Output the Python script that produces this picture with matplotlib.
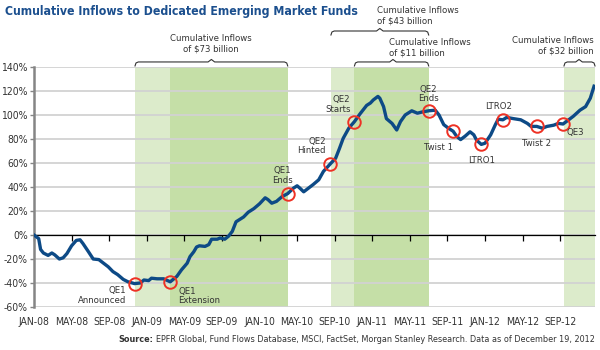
import matplotlib
matplotlib.use('Agg')
import matplotlib.pyplot as plt
import matplotlib.transforms as mtransforms
from matplotlib import font_manager as fm
import numpy as np

# pick a narrow font if one is installed
narrow = [f for f in fm.fontManager.ttflist
          if 'narrow' in f.name.lower() or 'condensed' in str(f.stretch).lower()
          or 'condensed' in f.fname.lower()]
if narrow:
    plt.rcParams['font.family'] = [narrow[0].name, 'DejaVu Sans']
    plt.rcParams['font.stretch'] = narrow[0].stretch
    scale = 1.0
else:
    plt.rcParams['font.family'] = ['Liberation Sans', 'DejaVu Sans']
    scale = 0.85

# months since JAN-08 and cumulative inflows (%)
months = [0, 0.5, 0.7, 1.0, 1.5, 1.9, 2.2, 2.7, 3.1, 3.5,
          4.0, 4.5, 4.9, 5.2, 5.8, 6.3, 6.9, 7.4, 7.9, 8.4,
          8.9, 9.5, 10.0, 10.7, 11.3, 11.7, 12.2, 12.5, 13.1, 13.8,
          14.5, 15.2, 15.7, 16.3, 16.6, 17.0, 17.3, 17.6, 18.2, 18.6,
          18.9, 19.5, 19.8, 20.3, 20.7, 21.1, 21.5, 21.9, 22.3, 22.8,
          23.4, 24.0, 24.6, 24.9, 25.3, 25.8, 26.4, 27.0, 27.6, 28.0,
          28.3, 28.7, 29.2, 29.7, 30.3, 30.8, 31.5, 32.1, 32.5, 32.9,
          33.5, 34.1, 34.7, 35.4, 35.8, 36.1, 36.6, 36.8, 37.2, 37.5,
          38.1, 38.6, 39.0, 39.5, 40.2, 40.8, 41.3, 42.0, 42.7, 43.1,
          43.6, 44.1, 44.6, 45.0, 45.4, 45.9, 46.4, 46.8, 47.1, 47.6,
          48.0, 48.6, 49.1, 49.4, 49.9, 50.3, 51.0, 51.8, 52.5, 52.9,
          53.5, 54.1, 54.6, 55.3, 55.8, 56.3, 56.9, 57.4, 58.1, 58.7,
          59.2, 59.6]
inflows = [0, -3, -12, -15, -17, -15, -16.5, -20, -19, -15.5,
           -9, -4.5, -4, -7, -14, -20, -20.5, -23.5, -26.5, -30.5,
           -33, -37, -39, -40.5, -40, -37.5, -38, -36, -36.5, -36.5,
           -39, -34.5, -29, -23.5, -18, -14, -10, -9, -9.5, -8,
           -3.5, -3.5, -2.5, -3.5, -1, 3, 11, 13, 15, 19,
           22, 26, 31, 29.5, 26.5, 28, 32, 34.5, 39, 41,
           39, 36, 39, 42, 46, 53, 59, 64, 72, 80.5,
           89, 94.5, 101, 108, 110, 112.5, 115.5, 114, 107, 97,
           93, 87.5, 94.5, 100, 103.5, 101.5, 102.5, 103.5, 104, 100,
           92, 89, 86.5, 82, 79.5, 82.5, 86, 83.5, 79, 75.5,
           76.5, 83.5, 92, 96.5, 96, 98, 97, 96, 93, 90.5,
           90.5, 89, 90.5, 91.5, 93, 92.5, 96, 99, 104, 107,
           114, 124]

event_months = [10.7, 14.5, 27.0, 31.5, 34.1, 42.0, 44.6, 47.6, 49.9, 53.5, 56.3]
event_labels = ['QE1\nAnnounced', 'QE1\nExtension', 'QE1\nEnds', 'QE2\nHinted',
                'QE2\nStarts', 'QE2\nEnds', 'Twist 1', 'LTRO1', 'LTRO2',
                'Twist 2', 'QE3']

light_spans = [(10.75, 14.5), (31.6, 34.1), (56.4, 59.7)]
dark_spans = [(14.5, 27.0), (34.1, 42.0)]

x_ticks = list(range(0, 57, 4))
x_labels = ['JAN-08', 'MAY-08', 'SEP-08', 'JAN-09', 'MAY-09', 'SEP-09', 'JAN-10',
            'MAY-10', 'SEP-10', 'JAN-11', 'MAY-11', 'SEP-11', 'JAN-12', 'MAY-12', 'SEP-12']
y_ticks = list(range(-60, 141, 20))

fs = 7.5 * scale
fs_note = 6.8 * scale

fig = plt.figure(figsize=(6, 3.5), dpi=100)
ax = fig.add_axes([34 / 600, 1 - 307 / 350, 561 / 600, 240 / 350])
ax.set_xlim(0, 59.7)
ax.set_ylim(-60, 140)

for a, b in light_spans:
    ax.axvspan(a, b, color='#dcebcb', lw=0, zorder=0.2)
for a, b in dark_spans:
    ax.axvspan(a, b, color='#c5dfa7', lw=0, zorder=0.2)

ax.set_axisbelow(True)
ax.yaxis.grid(True, color='#d2d2d2', lw=1.3)

ax.plot(months, inflows, color='#0d4a86', lw=2.4, zorder=3, solid_joinstyle='round')

ev_vals = np.interp(event_months, months, inflows)
ax.plot(event_months, ev_vals, 'o', ms=9, mfc='none', mec='#ee3124', mew=1.4, zorder=4)

# label offsets in pixels (dx, dy) and alignment
offsets = [(-8, -12, 'right'), (8, -14, 'left'), (-5, 18, 'center'), (-4, 18, 'right'),
           (-4, 17, 'right'), (0, 17, 'center'), (-15, -16, 'center'), (0, -16, 'center'),
           (-4, 13, 'center'), (0, -17, 'center'), (12, -9, 'center')]
for m, v, lab, (dx, dy, ha) in zip(event_months, ev_vals, event_labels, offsets):
    ax.annotate(lab, (m, v), xytext=(dx * 0.72, dy * 0.72), textcoords='offset points',
                ha=ha, va='center', fontsize=fs_note, color='#333333', linespacing=1.05,
                multialignment=ha, zorder=5)

ax.set_xticks(x_ticks)
ax.set_xticklabels(x_labels)
ax.set_yticks(y_ticks)
ax.set_yticklabels([f'{v}%' for v in y_ticks])
ax.spines['bottom'].set_position(('data', 0))
ax.spines['bottom'].set_color('black')
ax.spines['bottom'].set_linewidth(0.9)
ax.spines['top'].set_visible(False)
ax.spines['right'].set_visible(False)
ax.spines['left'].set_color('#858585')
ax.spines['left'].set_linewidth(1.8)
ax.tick_params(axis='x', direction='out', length=4, width=0.9, color='black',
               labelsize=fs, labelcolor='#333333', pad=55)
ax.tick_params(axis='y', direction='out', length=3, width=1, color='#858585',
               labelsize=fs, labelcolor='#333333', pad=1.5)

# braces over the shaded periods
trans = mtransforms.blended_transform_factory(ax.transData, ax.transAxes)
px = 1 / 240


def brace(x0, x1, y, xc=None):
    if xc is None:
        xc = (x0 + x1) / 2
    e = 0.35
    xs = [x0, x0 + e * 0.3, x0 + e, xc - e, xc, xc + e, x1 - e, x1 - e * 0.3, x1]
    ys = [y - 4 * px, y - 1 * px, y, y, y + 2.5 * px, y, y, y - 1 * px, y - 4 * px]
    ax.plot(xs, ys, color='#333333', lw=0.8, transform=trans, clip_on=False)


brace(10.75, 27.0, 1.021)
brace(31.6, 42.0, 1.15, 36.8)
brace(34.1, 42.0, 1.021, 38.2)
brace(56.4, 59.7, 1.021, 58.0)

ann = dict(transform=trans, fontsize=fs_note, color='#333333', linespacing=1.15, va='center')
ax.text(18.85, 1.096, 'Cumulative Inflows\nof $73 billion', ha='center', multialignment='center', **ann)
ax.text(36.5, 1.2125, 'Cumulative Inflows\nof $43 billion', ha='left', multialignment='left', **ann)
ax.text(37.8, 1.081, 'Cumulative Inflows\nof $11 billion', ha='left', multialignment='left', **ann)
ax.text(59.6, 1.0875, 'Cumulative Inflows\nof $32 billion', ha='right', multialignment='right', **ann)

fig.text(5 / 600, 1 - 12 / 350, 'Cumulative Inflows to Dedicated Emerging Market Funds',
         fontsize=8.8 * scale, fontweight='bold', color='#1b4f8e', va='center', ha='left')

src = fig.text(595 / 600, 1 - 340 / 350,
               'EPFR Global, Fund Flows Database, MSCI, FactSet, Morgan Stanley Research. Data as of December 19, 2012',
               fontsize=6.5 * scale, color='#333333', ha='right', va='center')
fig.canvas.draw()
bb = src.get_window_extent()
fig.text((bb.x0 - 3) / 600, 1 - 340 / 350, 'Source:', fontsize=6.5 * scale, fontweight='bold',
         color='#333333', ha='right', va='center')

fig.savefig('out.png', dpi=100)
